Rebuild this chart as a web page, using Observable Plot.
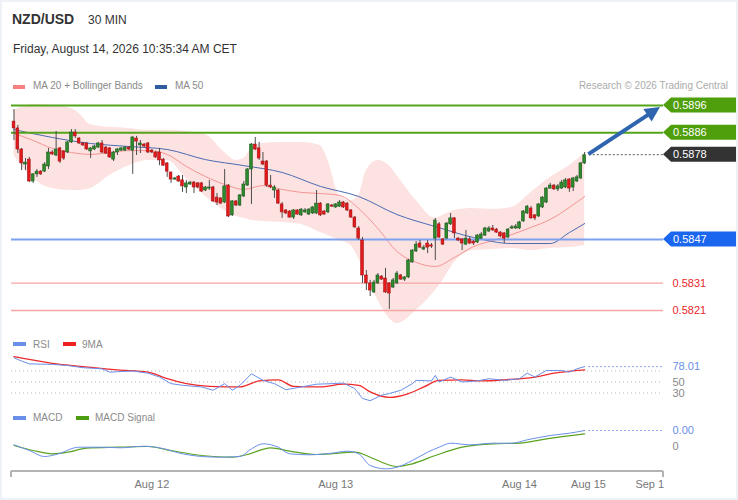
<!DOCTYPE html>
<html><head><meta charset="utf-8">
<script src="https://cdn.jsdelivr.net/npm/d3@7"></script>
<script src="https://cdn.jsdelivr.net/npm/@observablehq/plot@0.6"></script>
<style>
html,body{margin:0;padding:0;background:#fff;}
#root{position:relative;width:738px;height:500px;overflow:hidden;background:#fff;font-family:"Liberation Sans",Arial,sans-serif;}
.t{position:absolute;white-space:nowrap;}
.sw{position:absolute;}
.wrap{position:absolute;left:0;}
#frame{position:absolute;left:0;top:0;width:738px;height:500px;box-sizing:border-box;border:2px solid #eef1f5;pointer-events:none;}
</style></head><body><div id="root"></div>
<script>
// ---------------- DATA ----------------
// Candle prices stored in points (1 point = 0.00001)
const PT = 1e-5;
const openPts = [58901,58876,58799,58744,58762,58682,58708,58718,58718,58737,
58788,58777,58803,58792,58788,58825,58861,58839,58821,58821,
58792,58799,58806,58821,58806,58803,58762,58788,58795,58795,
58806,58795,58839,58814,58817,58821,58795,58788,58788,58762,
58748,58715,58689,58700,58686,58660,58671,58678,58675,58675,
58649,58656,58660,58623,58620,58605,58667,58558,58609,58594,
58627,58667,58726,58817,58803,58755,58755,58667,58649,58649,
58598,58576,58572,58550,58576,58558,58569,58561,58565,58565,
58601,58572,58569,58594,58587,58590,58605,58601,58576,58550,
58510,58466,58338,58309,58276,58309,58334,58327,58309,58294,
58309,58338,58323,58331,58386,58426,58455,58433,58455,58448,
58473,58525,58470,58473,58525,58547,58473,58470,58451,58470,
58462,58459,58473,58484,58499,58510,58506,58495,58492,58477,
58510,58510,58510,58536,58565,58583,58558,58554,58587,58605,
58656,58667,58653,58656,58660,58689,58660,58682,58693,58748];
const highPts = [58945,58887,58803,58766,58770,58711,58726,58722,58751,58803,
58795,58865,58806,58795,58828,58872,58872,58843,58825,58825,
58806,58814,58825,58832,58810,58806,58792,58803,58806,58810,
58810,58847,58847,58832,58821,58825,58799,58792,58803,58766,
58751,58715,58697,58704,58704,58686,58682,58682,58678,58678,
58664,58686,58664,58638,58623,58726,58671,58612,58612,58634,
58682,58729,58821,58843,58825,58788,58759,58704,58667,58653,
58605,58579,58576,58579,58579,58583,58583,58583,58590,58649,
58605,58576,58601,58598,58601,58612,58609,58605,58579,58554,
58517,58477,58356,58320,58320,58345,58338,58364,58312,58327,
58353,58342,58334,58397,58433,58462,58466,58448,58466,58455,
58547,58532,58473,58532,58565,58550,58477,58473,58503,58477,
58466,58488,58495,58514,58517,58521,58510,58499,58495,58510,
58521,58525,58536,58576,58594,58590,58561,58601,58627,58660,
58675,58671,58671,58686,58693,58693,58697,58704,58751,58788];
const lowPts = [58832,58784,58722,58722,58678,58675,58697,58704,58715,58726,
58777,58773,58748,58759,58784,58821,58839,58817,58810,58795,
58766,58795,58803,58784,58781,58766,58755,58777,58792,58792,
58795,58708,58777,58784,58806,58784,58784,58766,58740,58737,
58697,58675,58686,58678,58642,58638,58667,58638,58656,58642,
58645,58649,58605,58594,58598,58601,58550,58554,58590,58590,
58623,58664,58598,58795,58759,58740,58660,58656,58620,58598,
58547,58561,58547,58543,58558,58554,58565,58558,58561,58561,
58554,58558,58565,58587,58583,58587,58583,58572,58547,58510,
58466,58309,58283,58261,58272,58305,58320,58272,58214,58290,
58305,58320,58316,58327,58382,58422,58437,58429,58418,58437,
58393,58473,58448,58470,58521,58473,58462,58429,58448,58451,
58448,58455,58470,58481,58495,58499,58492,58477,58455,58473,
58506,58506,58506,58532,58561,58543,58539,58550,58583,58601,
58653,58649,58645,58653,58656,58642,58645,58678,58689,58744];
const closePts = [58876,58799,58748,58751,58682,58708,58718,58708,58744,58788,
58781,58799,58755,58766,58825,58861,58847,58821,58814,58799,
58803,58810,58821,58788,58784,58770,58788,58799,58803,58806,
58799,58843,58828,58821,58810,58788,58788,58770,58759,58740,
58718,58689,58693,58682,58664,58675,58678,58660,58660,58645,
58660,58660,58609,58605,58601,58664,58554,58609,58594,58631,
58671,58726,58817,58799,58766,58744,58667,58660,58660,58601,
58569,58565,58550,58576,58561,58579,58576,58579,58587,58601,
58558,58561,58598,58590,58598,58605,58587,58576,58550,58514,
58473,58338,58309,58283,58312,58338,58323,58276,58272,58320,
58345,58323,58331,58393,58429,58451,58440,58440,58440,58444,
58539,58477,58451,58528,58547,58492,58466,58455,58473,58455,
58455,58484,58488,58510,58510,58503,58495,58481,58473,58506,
58514,58517,58532,58572,58590,58547,58547,58598,58623,58656,
58667,58653,58664,58678,58686,58656,58693,58697,58748,58778];

// Moving averages / Bollinger bands (sampled at candle indices)
const ma20Idx = [0,5,10,15,20,25,30,35,40,45,50,55,60,65,70,75,80,85,90,95,100,105,110,115,120,125,130,135,140,145,149];
const ma20Pts = [58858,58832,58803,58788,58781,58788,58795,58795,58781,58737,58700,58671,58653,58667,58653,58642,58638,58631,58583,58510,58426,58386,58371,58404,58444,58466,58488,58514,58543,58587,58627];
const ma50Idx = [0,10,20,30,40,50,60,70,80,90,100,110,120,130,140,145,149];
const ma50Pts = [58872,58843,58821,58810,58799,58762,58740,58715,58664,58627,58561,58517,58477,58455,58455,58495,58528];
const bandIdx = [0,5,10,15,17,20,25,30,35,40,45,50,55,58,60,62,65,70,75,80,82,85,88,90,92,95,98,100,105,110,112,115,120,125,130,135,140,145,149];
const bandUpperPts = [58942,58964,58960,58949,58931,58890,58880,58876,58869,58869,58865,58854,58788,58759,58766,58803,58821,58825,58825,58814,58759,58631,58612,58631,58722,58759,58740,58704,58612,58547,58558,58576,58583,58580,58587,58642,58697,58740,58784];
const bandLowerPts = [58777,58693,58656,58649,58649,58656,58704,58740,58759,58759,58693,58627,58576,58554,58547,58539,58536,58532,58525,58495,58484,58466,58448,58400,58338,58247,58181,58162,58210,58283,58320,58386,58429,58433,58437,58429,58437,58440,58448];

// Key levels
const levelValue = [0.5896, 0.5886, 0.5878, 0.5847, 0.5831, 0.5821];
const levelKind  = ["resistance","resistance","last","pivot","support","support"];
// Forecast arrow (candle index, price)
const forecastFrom = [150.1, 0.5878];
const forecastTo   = [168.8, 0.58953];

// RSI (14) and its 9-period MA
const rsiIdx = [0,2,4,10,14,18,23,25,31,35,38,41,44,49,52,55,57,59,62,65,68,71,75,79,83,86,89,91,93,96,98,101,104,105,109,110,111,114,117,121,124,128,132,134,136,139,143,145,147,149];
const rsiVal = [94,88,83,82,80,76,74,68,70,66,59,47,44,41,35,47,35,44,65,53,47,36,41,46,47,48,38,20,16,26,29,35,47,53,52,62,50,59,50,52,56,53,56,66,59,71,71,68,74,78.01];
const rsiMaIdx = [0,10,18,27,35,40,45,51,59,64,69,73,80,86,90,93,98,103,107,111,117,122,128,136,141,149];
const rsiMaVal = [96,84,78,72,68,56,47,42,41,52,54,42,41,46,44,32,22,29,41,53,54,52,54,59,66,72];
const rsiLevels = [70, 50, 30];

// MACD and signal (in pips, 1 pip = 0.0001)
const macdIdx = [0,4,8,11,17,23,28,34,38,44,49,54,59,62,65,69,72,77,83,87,90,93,97,100,104,108,111,114,119,125,130,134,140,145,149];
const macdPips = [0.34,-0.8,-2.0,-1.6,-0.14,-0.14,-0.26,0.06,-0.26,-1.46,-2.0,-2.14,-2.0,-0.46,0.54,-0.14,-1.46,-1.66,-1.34,-0.94,-1.46,-3.8,-4.46,-4.14,-2.8,-1.14,-0.14,0.66,0.34,0.66,0.66,1.34,2.2,2.66,3.2];
const signalIdx = [0,5,10,14,19,27,35,40,47,57,61,67,72,79,89,93,96,100,104,110,117,125,132,139,149];
const signalPips = [0.2,-0.8,-1.46,-1.14,-0.34,-0.14,0,-0.66,-1.6,-2.14,-1.6,-0.26,-0.94,-1.6,-1.14,-2.14,-3.14,-4.0,-3.46,-1.8,-0.14,0.54,0.66,1.54,2.54];

// X axis ticks (candle index) and labels
const tickIdx = [36, 84, 132, 150, 166];
const tickLabels = ["Aug 12", "Aug 13", "Aug 14", "Aug 15", "Sep 1"];

// ---------------- LAYOUT ----------------
const W = 738;
const FONT = '"Liberation Sans", Arial, sans-serif';
const X0 = 13.5, STEP = 3.83;              // px of first candle, px per candle
const idxAt = px => (px - X0) / STEP;
const xScale = {domain: [idxAt(0), idxAt(W)], range: [0, W]};
const axisStart = idxAt(11), axisEnd = idxAt(663), labelIdx = idxAt(672);

const candles = openPts.map((o, i) => ({i, open: o*PT, high: highPts[i]*PT, low: lowPts[i]*PT, close: closePts[i]*PT}));
const ma20 = ma20Idx.map((i, k) => ({i, v: ma20Pts[k]*PT}));
const ma50 = ma50Idx.map((i, k) => ({i, v: ma50Pts[k]*PT}));
const band = bandIdx.map((i, k) => ({i, lo: bandLowerPts[k]*PT, hi: bandUpperPts[k]*PT}));
const levels = levelValue.map((v, k) => ({value: v, kind: levelKind[k]}));
const rsi = rsiIdx.map((i, k) => ({i, v: rsiVal[k]}));
const rsiMa = rsiMaIdx.map((i, k) => ({i, v: rsiMaVal[k]}));
const macd = macdIdx.map((i, k) => ({i, v: macdPips[k]}));
const signal = signalIdx.map((i, k) => ({i, v: signalPips[k]}));
const lastIdx = candles.length - 1;

const root = document.getElementById("root");
const baseStyle = {background: "transparent", overflow: "visible", fontFamily: FONT, fontSize: "11px"};

function put(plot, top) {
  const d = document.createElement("div");
  d.className = "wrap"; d.style.top = top + "px";
  d.appendChild(plot); root.appendChild(d);
}
function text(str, left, baseline, size, color, opts = {}) {
  const s = document.createElement("div");
  s.className = "t";
  s.textContent = str;
  s.style.fontSize = size + "px";
  s.style.lineHeight = size + "px";
  s.style.top = (baseline - 0.8465 * size) + "px";
  if (opts.right != null) s.style.right = opts.right + "px"; else s.style.left = left + "px";
  s.style.color = color;
  if (opts.bold) s.style.fontWeight = "bold";
  root.appendChild(s);
}
function swatch(left, top, w, h, color) {
  const s = document.createElement("div");
  s.className = "sw";
  Object.assign(s.style, {left: left + "px", top: top + "px", width: w + "px", height: h + "px", background: color});
  root.appendChild(s);
}

// ---------------- MAIN PRICE PANEL ----------------
const PX_PER_PRICE = 27330;          // 27.33 px per 0.001
const mainTop = 95, mainH = 240, refPrice = 0.5896, refY = 105;
const mainY = {domain: [refPrice - (mainTop + mainH - refY) / PX_PER_PRICE, refPrice + (refY - mainTop) / PX_PER_PRICE], range: [mainH, 0]};

const tagColor = {resistance: "#4f9e0c", last: "#333333", pivot: "#1a66ee"};
const lineColor = {resistance: "#55a51a", pivot: "#7ca1f0", support: "#f7a6a6"};
const lineWidth = {resistance: 2, pivot: 2, support: 1.4};

function tagsMark(index, scales, values, dims) {
  const g = d3.create("svg:g");
  const xL = scales.x(axisEnd);
  levels.forEach(l => {
    if (!tagColor[l.kind]) return;
    const cy = scales.y(l.value);
    g.append("path")
      .attr("d", `M${xL},${cy}L${xL + 8},${cy - 7.5}H${dims.width - 2}V${cy + 7.5}H${xL + 8}Z`)
      .attr("fill", tagColor[l.kind]);
    g.append("text").attr("x", xL + 10).attr("y", cy).attr("dy", "0.36em")
      .attr("text-anchor", "start")
      .attr("fill", "#fff").attr("font-size", 11).attr("font-family", FONT)
      .text(l.value.toFixed(4));
  });
  return g.node();
}
function arrowMark(index, scales) {
  const g = d3.create("svg:g");
  const x1 = scales.x(forecastFrom[0]), y1 = scales.y(forecastFrom[1]);
  const x2 = scales.x(forecastTo[0]), y2 = scales.y(forecastTo[1]);
  const a = Math.atan2(y2 - y1, x2 - x1), L = 15, Wd = 7.5;
  const bx = x2 - L * Math.cos(a), by = y2 - L * Math.sin(a);
  const px = -Math.sin(a) * Wd, py = Math.cos(a) * Wd;
  g.append("line").attr("x1", x1).attr("y1", y1).attr("x2", bx + Math.cos(a)).attr("y2", by + Math.sin(a))
    .attr("stroke", "#2f64ae").attr("stroke-width", 4);
  g.append("path").attr("d", `M${x2},${y2}L${bx + px},${by + py}L${bx - px},${by - py}Z`).attr("fill", "#2f64ae");
  return g.node();
}

const lines = levels.filter(l => l.kind !== "last");
const mainPlot = Plot.plot({
  width: W, height: mainH, margin: 0,
  x: {...xScale, axis: null}, y: {...mainY, axis: null},
  style: baseStyle,
  marks: [
    Plot.areaY(band, {x: "i", y1: "lo", y2: "hi", fill: "#fde2e2", curve: "monotone-x"}),
    Plot.line(ma20, {x: "i", y: "v", stroke: "#f59494", strokeWidth: 1, curve: "monotone-x"}),
    Plot.line(ma50, {x: "i", y: "v", stroke: "#4a6cb0", strokeWidth: 1, curve: "monotone-x"}),
    Plot.ruleY(lines, {y: "value", x1: () => axisStart, x2: () => axisEnd,
      stroke: d => lineColor[d.kind], strokeWidth: d => lineWidth[d.kind]}),
    Plot.ruleY(levels.filter(l => l.kind === "last"), {y: "value", x1: () => lastIdx + 1.2, x2: () => axisEnd,
      stroke: "#555", strokeWidth: 1, strokeDasharray: "2,2"}),
    Plot.ruleX(candles, {x: "i", y1: "low", y2: "high", stroke: "#4d4d4d", strokeWidth: 1}),
    Plot.rect(candles, {x1: d => d.i - 0.36, x2: d => d.i + 0.36, y1: "open", y2: "close",
      fill: d => d.close >= d.open ? "#2d8a2d" : "#e3191c",
      stroke: d => d.close >= d.open ? "#1c5a1c" : "#a81414", strokeWidth: 0.6}),
    Plot.text(levels.filter(l => l.kind === "support"), {x: () => labelIdx, y: "value",
      text: d => d.value.toFixed(4), fill: "#e8262a", textAnchor: "start", fontSize: 11}),
    tagsMark,
    arrowMark
  ]
});
put(mainPlot, mainTop);

// ---------------- RSI PANEL ----------------
const rsiTop = 350, rsiH = 55, rsi50Y = 381.5, rsiPxPerUnit = 0.55;
const rsiY = {domain: [50 - (rsiTop + rsiH - rsi50Y) / rsiPxPerUnit, 50 + (rsi50Y - rsiTop) / rsiPxPerUnit], range: [rsiH, 0]};
const lastRsi = rsi[rsi.length - 1].v;
const rsiPlot = Plot.plot({
  width: W, height: rsiH, margin: 0,
  x: {...xScale, axis: null}, y: {...rsiY, axis: null},
  style: baseStyle,
  marks: [
    Plot.ruleY(rsiLevels, {x1: () => axisStart, x2: () => axisEnd, stroke: "#b5b5b5", strokeDasharray: "1,3"}),
    Plot.ruleY([lastRsi], {x1: () => lastIdx + 1, x2: () => axisEnd, stroke: "#8aa8f0", strokeDasharray: "2,2"}),
    Plot.line(rsiMa, {x: "i", y: "v", stroke: "#ef2a2a", strokeWidth: 1.3, curve: "monotone-x"}),
    Plot.line(rsi, {x: "i", y: "v", stroke: "#6a8fe8", strokeWidth: 1}),
    Plot.text(rsiLevels.filter(v => v !== 70), {x: () => labelIdx, y: d => d, text: d => String(d), fill: "#888", textAnchor: "start", fontSize: 11}),
    Plot.text([lastRsi], {x: () => labelIdx, y: d => d, text: d => d.toFixed(2), fill: "#6a8fe8", textAnchor: "start", fontSize: 11})
  ]
});
put(rsiPlot, rsiTop);

// ---------------- MACD PANEL + X AXIS ----------------
const macdTop = 405, macdH = 95, macdMB = 29, macdZeroY = 446, macdPxPerPip = 5;
const macdY = {domain: [(macdZeroY - (macdTop + macdH - macdMB)) / macdPxPerPip, (macdZeroY - macdTop) / macdPxPerPip]};
const lastMacd = macd[macd.length - 1].v;
const tickMap = new Map(tickIdx.map((t, k) => [t, tickLabels[k]]));
function axisLineMark(index, scales, values, dims) {
  const g = d3.create("svg:g").attr("stroke", "#b3b3b3").attr("stroke-width", 2);
  const yb = dims.height - dims.marginBottom;
  const a = scales.x(axisStart), b = scales.x(axisEnd);
  g.append("line").attr("x1", a).attr("x2", b).attr("y1", yb).attr("y2", yb);
  g.append("line").attr("x1", a).attr("x2", a).attr("y1", yb).attr("y2", yb + 6);
  g.append("line").attr("x1", b).attr("x2", b).attr("y1", yb).attr("y2", yb + 6);
  return g.node();
}
const macdPlot = Plot.plot({
  width: W, height: macdH, margin: 0, marginBottom: macdMB,
  x: {...xScale, axis: "bottom", ticks: tickIdx, tickFormat: d => tickMap.get(d) ?? "", tickSize: 0, tickPadding: 9, label: null},
  y: {...macdY, axis: null},
  style: {...baseStyle, color: "#777"},
  marks: [
    Plot.ruleY([lastMacd], {x1: () => lastIdx + 1, x2: () => axisEnd, stroke: "#8aa8f0", strokeDasharray: "2,2"}),
    Plot.line(signal, {x: "i", y: "v", stroke: "#5aa320", strokeWidth: 1.2, curve: "monotone-x"}),
    Plot.line(macd, {x: "i", y: "v", stroke: "#6a8fe8", strokeWidth: 1, curve: "monotone-x"}),
    Plot.text([lastMacd], {x: () => labelIdx, y: d => d, text: d => (d / 1e4).toFixed(2), fill: "#6a8fe8", textAnchor: "start", fontSize: 11}),
    Plot.text([0], {x: () => labelIdx, y: d => d, text: () => "0", fill: "#888", textAnchor: "start", fontSize: 11}),
    axisLineMark
  ]
});
put(macdPlot, macdTop);

// ---------------- TEXTS / LEGENDS ----------------
text("NZD/USD", 12, 24, 14, "#333", {bold: true});
text("30 MIN", 88, 24, 12, "#333");
text("Friday, August 14, 2026 10:35:34 AM CET", 13, 53, 12, "#333");
swatch(13, 85, 12, 4, "#f77f7f");
text("MA 20 + Bollinger Bands", 33, 89.5, 10, "#8a8a8a");
swatch(155, 85, 12, 4, "#2e5c9e");
text("MA 50", 175, 89.5, 10, "#8a8a8a");
text("Research \u00a9 2026 Trading Central", 0, 89.5, 10, "#ababab", {right: 10});
swatch(13, 342, 13, 4, "#6a8fe8");
text("RSI", 33, 348, 10, "#8a8a8a");
swatch(63, 342, 13, 4, "#ef2020");
text("9MA", 82, 348, 10, "#8a8a8a");
swatch(13, 416, 13, 4, "#6a8fe8");
text("MACD", 33, 421.5, 10, "#8a8a8a");
swatch(76, 416, 13, 4, "#4c9e10");
text("MACD Signal", 95, 421.5, 10, "#8a8a8a");

const fr = document.createElement("div"); fr.id = "frame"; root.appendChild(fr);
</script></body></html>
